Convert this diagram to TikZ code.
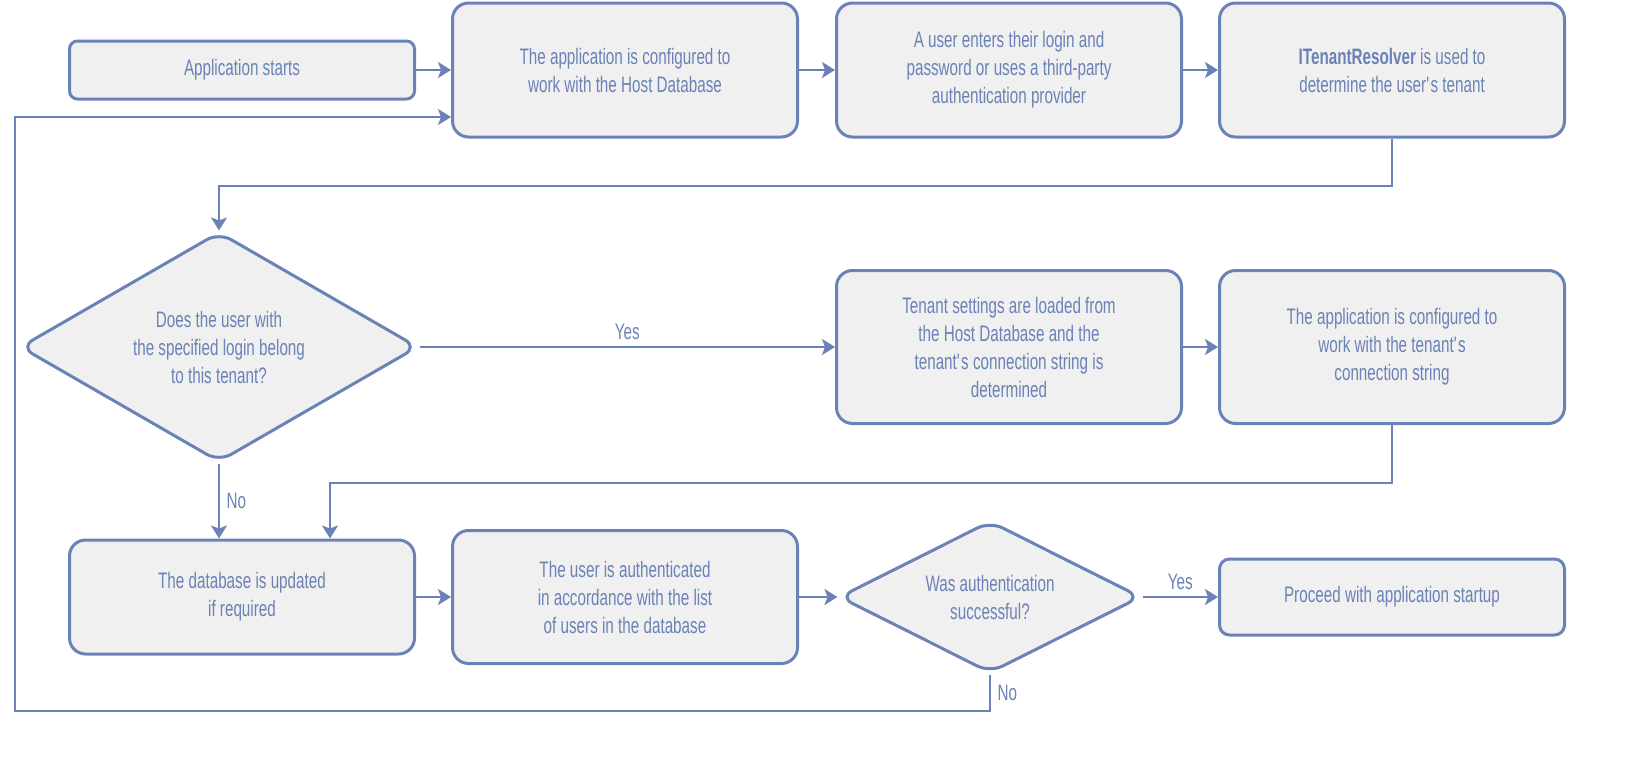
\documentclass[tikz,border=0pt]{standalone}
\usepackage{fontspec}
\setmainfont[FakeStretch=0.68]{Liberation Sans}
\usetikzlibrary{shapes.geometric,arrows.meta}
\definecolor{flowblue}{HTML}{6A82B6}
\definecolor{flowfill}{HTML}{F0F0F0}
\begin{document}
\begin{tikzpicture}[x=0.5pt,y=-0.5pt,
    font=\fontsize{11.2}{14}\selectfont, text=flowblue,
    stepbox/.style={draw=flowblue, fill=flowfill, line width=1.5pt, rounded corners=8pt, minimum width=172.5pt, align=center},
    question/.style={draw=flowblue, fill=flowfill, line width=1.5pt, rounded corners=7pt, shape=diamond, inner sep=0pt, align=center},
    conn/.style={-{Stealth[length=6.5pt,width=8pt,inset=1.5pt]}, draw=flowblue, line width=1pt}]
\useasboundingbox (0,0) rectangle (1636,760);

\begin{scope}[every node/.style={stepbox}]
    \path (242,70) node[minimum height=29pt, rounded corners=4pt] (start) {Application starts};
    \path (start) +(383,0) node[minimum height=67pt] (cfghost) {The application is configured to\\work with the Host Database};
    \path (cfghost) +(384,0) node[minimum height=67pt] (login) {A user enters their login and\\password or uses a third-party\\authentication provider};
    \path (login) +(383,0) node[minimum height=67pt] (resolver) {\textbf{ITenantResolver} is used to\\determine the user\textquotesingle s tenant};
    \path (login) +(0,277) node[minimum height=76.5pt] (loaded) {Tenant settings are loaded from\\the Host Database and the\\tenant\textquotesingle s connection string is\\determined};
    \path (resolver) +(0,277) node[minimum height=76.5pt] (cfgtenant) {The application is configured to\\work with the tenant\textquotesingle s\\connection string};
    \path (start) +(0,527) node[minimum height=57pt] (dbupdate) {The database is updated\\if required};
    \path (cfghost) +(0,527) node[minimum height=66.5pt] (auth) {The user is authenticated\\in accordance with the list\\of users in the database};
    \path (resolver) +(0,527) node[minimum height=38pt, rounded corners=5pt] (proceed) {Proceed with application startup};
\end{scope}

\path (219,347) node[question, minimum width=199pt, minimum height=115pt, shape aspect=1.74] (tenantq) {Does the user with\\the specified login belong\\to this tenant?};
\path (auth) +(365,0) node[question, minimum width=151pt, minimum height=76pt, shape aspect=2] (authq) {Was authentication\\successful?};
\coordinate (loopleft) at (15,711);


\draw[conn] (start) -- (cfghost);
\draw[conn] (cfghost) -- (login);
\draw[conn] (login) -- (resolver);
\draw[conn] (resolver.south) -- ++(0,47) -| (tenantq.north);

\draw[conn] (tenantq.east) -- node[above] {Yes} (loaded.west);
\draw[conn] (loaded) -- (cfgtenant);
\draw[conn] (cfgtenant.south) -- ++(0,58) -| ([xshift=44pt]dbupdate.north);
\draw[conn] (tenantq.south) -- node[right] {No} (tenantq.south |- dbupdate.north);

\draw[conn] (dbupdate) -- (auth);
\draw[conn] (auth) -- (authq);
\draw[conn] (authq.east) -- node[above] {Yes} (proceed.west);
\draw[conn] (authq.south) |- node[pos=0.25, right] {No} (loopleft) |- ([yshift=-23.5pt]cfghost.west);

\end{tikzpicture}
\end{document}
